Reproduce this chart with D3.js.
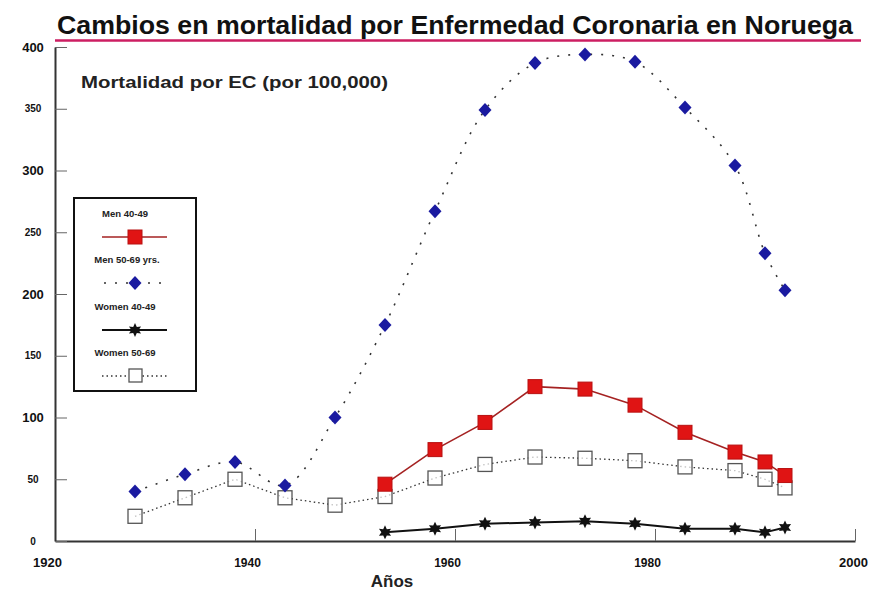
<!DOCTYPE html>
<html>
<head>
<meta charset="utf-8">
<script src="https://cdn.jsdelivr.net/npm/d3@7"></script>
<style>
  body { margin: 0; background: #fff; }
  svg text { font-family: "Liberation Sans", Arial, sans-serif; font-weight: bold; }
</style>
</head>
<body>
<div id="chart"></div>
<script>
const width = 873;
const height = 592;

// data
const yearsLong = [1928, 1933, 1938, 1943, 1948, 1953, 1958, 1963, 1968, 1973, 1978, 1983, 1988, 1991, 1993];
const men5069 = [40, 54, 64, 45, 100, 175, 267, 349, 387, 394, 388, 351, 304, 233, 203];
const women5069 = [20, 35, 50, 35, 29, 36, 51, 62, 68, 67, 65, 60, 57, 50, 43];
const yearsShort = [1953, 1958, 1963, 1968, 1973, 1978, 1983, 1988, 1991, 1993];
const men4049 = [46, 74, 96, 125, 123, 110, 88, 72, 64, 53];
const women4049 = [7, 10, 14, 15, 16, 14, 10, 10, 7, 11];

const xTicks = [1920, 1940, 1960, 1980, 2000];
const yTicks = [0, 50, 100, 150, 200, 250, 300, 350, 400];
const legendLabels = ["Men 40-49", "Men 50-69 yrs.", "Women 40-49", "Women 50-69"];

const svg = d3.select("#chart").append("svg")
  .attr("width", width)
  .attr("height", height);

const x = d3.scaleLinear().domain([1920, 2000]).range([55, 855]);
const y = d3.scaleLinear().domain([0, 400]).range([541, 47]);

// title
svg.append("text")
  .attr("x", 57).attr("y", 34)
  .attr("font-size", 26)
  .attr("textLength", 796).attr("lengthAdjust", "spacingAndGlyphs")
  .attr("fill", "#111")
  .text("Cambios en mortalidad por Enfermedad Coronaria en Noruega");
svg.append("line")
  .attr("x1", 55).attr("x2", 861).attr("y1", 40.5).attr("y2", 40.5)
  .attr("stroke", "#cc1e62").attr("stroke-width", 2.5);

svg.append("text")
  .attr("x", 81).attr("y", 88)
  .attr("font-size", 17)
  .attr("textLength", 307).attr("lengthAdjust", "spacingAndGlyphs")
  .attr("fill", "#222")
  .text("Mortalidad por EC (por 100,000)");

// axes
const gx = svg.append("g").attr("transform", "translate(0,541)");
gx.call(d3.axisBottom(x).tickValues(d3.range(1920, 2001, 5)).tickSize(-6).tickSizeOuter(0).tickFormat(""));
gx.call(d3.axisBottom(x).tickValues(xTicks).tickSize(-12).tickSizeOuter(0).tickPadding(17).tickFormat(d3.format("d")));
gx.selectAll("text")
  .attr("fill", "#111")
  .attr("font-size", d => (d == 1920 || d == 2000) ? 13 : 12)
  .attr("dx", d => d == 2000 ? -2 : -8);

const gy = svg.append("g").attr("transform", "translate(55,0)");
gy.call(d3.axisLeft(y).tickValues(d3.range(0, 401, 25)).tickSize(-6).tickSizeOuter(0).tickFormat(""));
gy.call(d3.axisLeft(y).tickValues(yTicks).tickSize(-12).tickSizeOuter(0).tickPadding(22).tickFormat(d3.format("d")));
gy.selectAll("text")
  .attr("text-anchor", "middle")
  .attr("fill", "#111")
  .attr("font-size", d => d % 100 == 0 && d > 0 ? 13 : 10);

svg.selectAll(".domain").attr("stroke", "#333").attr("stroke-width", 2);
svg.selectAll(".tick line").attr("stroke", "#666");

svg.append("text")
  .attr("x", 392).attr("y", 587)
  .attr("text-anchor", "middle")
  .attr("font-size", 17)
  .attr("fill", "#222")
  .text("Años");

// star marker
function starPath(r1, r2, n) {
  let pts = [];
  for (let i = 0; i < n * 2; i++) {
    let r = i % 2 == 0 ? r1 : r2;
    let a = Math.PI * i / n - Math.PI / 2;
    pts.push([Math.cos(a) * r, Math.sin(a) * r]);
  }
  return "M" + pts.join("L") + "Z";
}
const star = starPath(7, 3.6, 6);
const diamond = "M0,-7L6.5,0L0,7L-6.5,0Z";

const lineGen = d3.line().x(d => x(d[0])).y(d => y(d[1]));
const curveGen = d3.line().x(d => x(d[0])).y(d => y(d[1])).curve(d3.curveCatmullRom);

// women 50-69
const w50 = d3.zip(yearsLong, women5069);
svg.append("path").datum(w50).attr("d", lineGen)
  .attr("fill", "none").attr("stroke", "#333").attr("stroke-width", 1.3)
  .attr("stroke-dasharray", "1.5,3");
svg.selectAll(".w50").data(w50).enter().append("rect")
  .attr("x", d => x(d[0]) - 7).attr("y", d => y(d[1]) - 7)
  .attr("width", 14).attr("height", 14)
  .attr("fill", "#fff").attr("fill-opacity", 0.7)
  .attr("stroke", "#555").attr("stroke-width", 1.3);

// men 40-49
const m40 = d3.zip(yearsShort, men4049);
svg.append("path").datum(m40).attr("d", lineGen)
  .attr("fill", "none").attr("stroke", "#a52222").attr("stroke-width", 1.6);
svg.selectAll(".m40").data(m40).enter().append("rect")
  .attr("x", d => x(d[0]) - 7).attr("y", d => y(d[1]) - 7)
  .attr("width", 14).attr("height", 14)
  .attr("fill", "#e01414").attr("stroke", "#b81010").attr("stroke-width", 1);

// men 50-69
const m50 = d3.zip(yearsLong, men5069);
svg.append("path").datum(m50).attr("d", curveGen)
  .attr("fill", "none").attr("stroke", "#333").attr("stroke-width", 1.6)
  .attr("stroke-dasharray", "2,9");
svg.selectAll(".m50").data(m50).enter().append("path")
  .attr("d", diamond)
  .attr("transform", d => "translate(" + x(d[0]) + "," + y(d[1]) + ")")
  .attr("fill", "#1a1aa0");

// women 40-49
const w40 = d3.zip(yearsShort, women4049);
svg.append("path").datum(w40).attr("d", lineGen)
  .attr("fill", "none").attr("stroke", "#111").attr("stroke-width", 2);
svg.selectAll(".w40").data(w40).enter().append("path")
  .attr("d", star)
  .attr("transform", d => "translate(" + x(d[0]) + "," + y(d[1]) + ")")
  .attr("fill", "#111");

// legend
const lg = svg.append("g");
lg.append("rect")
  .attr("x", 74).attr("y", 198).attr("width", 122).attr("height", 193)
  .attr("fill", "#fff").attr("stroke", "#111").attr("stroke-width", 2);

const legendY = [214, 260, 307, 353];
lg.selectAll(".lt").data(legendLabels).enter().append("text")
  .attr("x", (d, i) => i == 1 ? 127 : 125)
  .attr("y", (d, i) => legendY[i] + 3)
  .attr("text-anchor", "middle")
  .attr("font-size", 9.5)
  .attr("fill", "#222")
  .text(d => d);

const ly = legendY.map(v => v + 23);
lg.append("line").attr("x1", 102).attr("x2", 167).attr("y1", ly[0]).attr("y2", ly[0])
  .attr("stroke", "#a52222").attr("stroke-width", 1.6);
lg.append("rect").attr("x", 128).attr("y", ly[0] - 7).attr("width", 14).attr("height", 14)
  .attr("fill", "#e01414").attr("stroke", "#b81010");

lg.append("line").attr("x1", 104).attr("x2", 167).attr("y1", ly[1]).attr("y2", ly[1])
  .attr("stroke", "#333").attr("stroke-width", 1.6).attr("stroke-dasharray", "2,9");
lg.append("path").attr("d", diamond).attr("transform", "translate(135," + ly[1] + ")")
  .attr("fill", "#1a1aa0");

lg.append("line").attr("x1", 102).attr("x2", 167).attr("y1", ly[2]).attr("y2", ly[2])
  .attr("stroke", "#111").attr("stroke-width", 2);
lg.append("path").attr("d", star).attr("transform", "translate(135," + ly[2] + ")")
  .attr("fill", "#111");

lg.append("line").attr("x1", 102).attr("x2", 167).attr("y1", ly[3]).attr("y2", ly[3])
  .attr("stroke", "#333").attr("stroke-width", 1.3).attr("stroke-dasharray", "1.5,3");
lg.append("rect").attr("x", 129).attr("y", ly[3] - 7).attr("width", 13).attr("height", 13)
  .attr("fill", "#fff").attr("stroke", "#555").attr("stroke-width", 1.3);
</script>
</body>
</html>
